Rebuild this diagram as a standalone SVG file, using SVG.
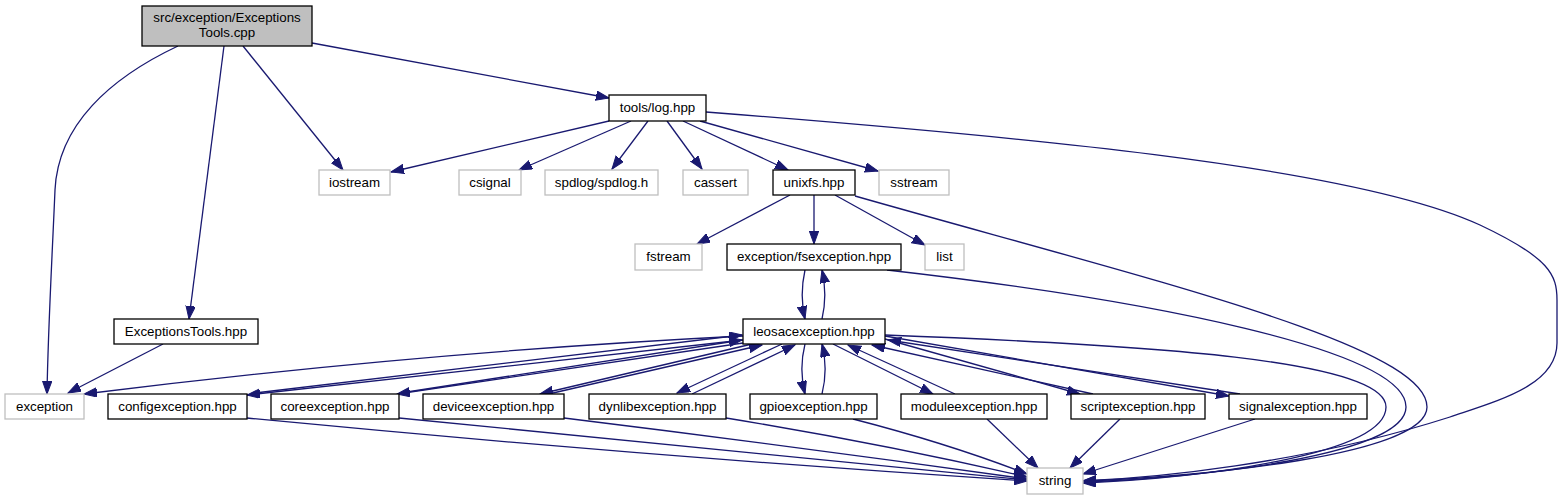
<svg xmlns="http://www.w3.org/2000/svg" width="1562" height="500" viewBox="0 0 1562 500">
<style>
.n rect{fill:#fff;stroke:#000;stroke-width:1.3}
.g rect{fill:#fff;stroke:#bfbfbf;stroke-width:1.3}
.m rect{fill:#bfbfbf;stroke:#000;stroke-width:1.3}
text{font-family:"Liberation Sans",Arial,sans-serif;font-size:13.33px;fill:#000;text-anchor:middle}
#edges path{fill:none;stroke:#191970;stroke-width:1.3;marker-end:url(#ah)}
</style>
<defs>
<marker id="ah" markerUnits="userSpaceOnUse" markerWidth="14" markerHeight="10" refX="13" refY="4.7" orient="auto">
<path d="M0,0 L13,4.7 L0,9.4 z" fill="#191970" stroke="#191970" stroke-width="1"/>
</marker>
</defs>
<rect width="1562" height="500" fill="#fff"/>
<g id="edges">
<path d="M178,46 C110,78 58,125 55,190 C52,260 48,330 47,394"/>
<path d="M224,46 L189,319"/>
<path d="M243,46 L343,170"/>
<path d="M312,43 L609,98"/>
<path d="M609,121 L391,172"/>
<path d="M631,121 L519,170"/>
<path d="M648,121 L612,169"/>
<path d="M667,121 L702,169"/>
<path d="M683,121 L788,170"/>
<path d="M700,121 L878,171"/>
<path d="M706,112 C1000,135 1350,165 1480,225 C1550,258 1557,275 1557,300 L1557,343 C1557,385 1500,400 1450,417 C1300,465 1150,478 1083,481"/>
<path d="M790,195 L697,244"/>
<path d="M814,195 L814,244"/>
<path d="M835,195 L925,245"/>
<path d="M855,196 C1150,280 1427,345 1427,407 C1427,455 1200,477 1083,481"/>
<path d="M805,270 C801,288 801,302 805,319"/>
<path d="M822,319 C826,302 826,288 822,270"/>
<path d="M887,270 C1150,300 1406,350 1406,407 C1406,455 1200,478 1083,482"/>
<path d="M163,344 L68,393"/>
<path d="M743,336 Q420,352 84,394"/>
<path d="M743,340 L247,395"/>
<path d="M255,393 L742,335"/>
<path d="M743,343 L397,394"/>
<path d="M407,392 L742,340"/>
<path d="M752,344 L540,394"/>
<path d="M553,393 L762,345"/>
<path d="M782,344 L677,393"/>
<path d="M692,394 L795,345"/>
<path d="M805,344 C801,360 801,378 805,394"/>
<path d="M822,394 C826,378 826,360 822,344"/>
<path d="M833,344 L933,394"/>
<path d="M955,394 L848,345"/>
<path d="M885,339 L1080,394"/>
<path d="M1093,394 L872,345"/>
<path d="M885,336 L1229,396"/>
<path d="M1240,394 L888,340"/>
<path d="M885,335 C1150,345 1386,360 1386,407 C1386,455 1200,478 1083,483"/>
<path d="M247,418 Q640,456 1027,481"/>
<path d="M399,418 Q720,451 1027,480"/>
<path d="M564,418 Q800,447 1027,479"/>
<path d="M726,418 Q880,443 1027,477"/>
<path d="M853,419 Q950,444 1027,474"/>
<path d="M987,419 L1038,468"/>
<path d="M1120,419 L1070,468"/>
<path d="M1255,419 L1083,474"/>
</g>
<g id="node-main" class="m"><rect x="142" y="6" width="170" height="40"/><text x="227" y="22">src/exception/Exceptions</text><text x="227" y="37">Tools.cpp</text></g>
<g id="node-log" class="n"><rect x="609" y="95" width="97" height="26"/><text x="657.5" y="112">tools/log.hpp</text></g>
<g id="node-iostream" class="g"><rect x="319" y="170" width="71" height="25"/><text x="354.5" y="187">iostream</text></g>
<g id="node-csignal" class="g"><rect x="459" y="170" width="62" height="25"/><text x="490" y="187">csignal</text></g>
<g id="node-spdlog" class="g"><rect x="545" y="170" width="113" height="25"/><text x="601.5" y="187">spdlog/spdlog.h</text></g>
<g id="node-cassert" class="g"><rect x="683" y="170" width="65" height="25"/><text x="715.5" y="187">cassert</text></g>
<g id="node-unixfs" class="n"><rect x="773" y="170" width="82" height="25"/><text x="814" y="187">unixfs.hpp</text></g>
<g id="node-sstream" class="g"><rect x="879" y="170" width="70" height="25"/><text x="914" y="187">sstream</text></g>
<g id="node-fstream" class="g"><rect x="635" y="244" width="67" height="26"/><text x="668.5" y="261">fstream</text></g>
<g id="node-fsexception" class="n"><rect x="727" y="244" width="174" height="26"/><text x="814" y="261">exception/fsexception.hpp</text></g>
<g id="node-list" class="g"><rect x="925" y="244" width="39" height="26"/><text x="944.5" y="261">list</text></g>
<g id="node-exctools" class="n"><rect x="114" y="319" width="144" height="25"/><text x="186" y="336">ExceptionsTools.hpp</text></g>
<g id="node-leosac" class="n"><rect x="743" y="319" width="142" height="25"/><text x="814" y="336">leosacexception.hpp</text></g>
<g id="node-exception" class="g"><rect x="5" y="394" width="79" height="25"/><text x="44.5" y="411">exception</text></g>
<g id="node-config" class="n"><rect x="108" y="394" width="139" height="25"/><text x="177.5" y="411">configexception.hpp</text></g>
<g id="node-core" class="n"><rect x="271" y="394" width="128" height="25"/><text x="335" y="411">coreexception.hpp</text></g>
<g id="node-device" class="n"><rect x="423" y="394" width="141" height="25"/><text x="493.5" y="411">deviceexception.hpp</text></g>
<g id="node-dynlib" class="n"><rect x="589" y="394" width="137" height="25"/><text x="657.5" y="411">dynlibexception.hpp</text></g>
<g id="node-gpio" class="n"><rect x="750" y="394" width="127" height="25"/><text x="813.5" y="411">gpioexception.hpp</text></g>
<g id="node-module" class="n"><rect x="901" y="394" width="146" height="25"/><text x="974" y="411">moduleexception.hpp</text></g>
<g id="node-script" class="n"><rect x="1071" y="394" width="134" height="25"/><text x="1138" y="411">scriptexception.hpp</text></g>
<g id="node-signal" class="n"><rect x="1229" y="394" width="138" height="25"/><text x="1298" y="411">signalexception.hpp</text></g>
<g id="node-string" class="g"><rect x="1027" y="468" width="56" height="26"/><text x="1055" y="485">string</text></g>
</svg>
